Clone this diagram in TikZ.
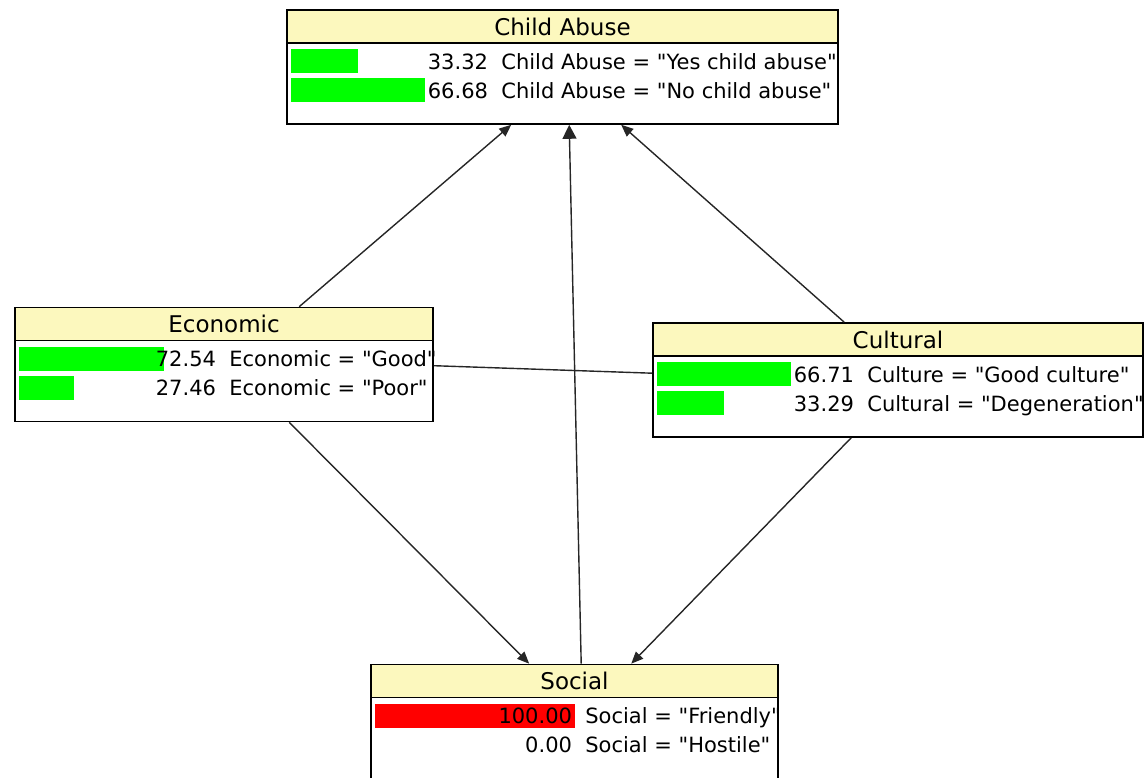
\documentclass[tikz,border=0pt]{standalone}
\usepackage{fontspec}
\setmainfont{DejaVu Sans}[Ligatures=TeXOff]
\usetikzlibrary{calc}
\usetikzlibrary{arrows.meta}
\definecolor{ttlyellow}{RGB}{252,248,190}
\definecolor{bargreen}{RGB}{0,255,0}
\definecolor{barred}{RGB}{255,0,0}
\tikzstyle{cpt} = [rectangle,fill=white,draw=black,line width=1.6pt,minimum height=114pt,inner sep=0pt]
\tikzstyle{ttl} = [rectangle,fill=ttlyellow,draw=black,line width=1.6pt,minimum height=33pt,anchor=north,inner sep=0pt,font=\fontsize{23}{23}\selectfont]
\tikzstyle{num} = [anchor=base east,inner sep=0pt,font=\fontsize{21}{21}\selectfont]
\tikzstyle{lbl} = [anchor=base west,inner sep=0pt,font=\fontsize{21}{21}\selectfont]
\tikzstyle{link} = [line width=1.4pt,draw=black!85,-{Triangle[length=12pt,width=10pt]}]
\newcommand{\staterow}[5]{%
\fill[#4] ($(#1.north west)+(5,40+29*#2)$) rectangle ++(2*#3,24);
\node[num] (#1-n#2) at ($(#1.north west)+(202,60+29*#2)$) {#3};
\node[lbl] (#1-l#2) at ($(#1.north west)+(215,60+29*#2)$) {#5};}

\begin{document}
\begin{tikzpicture}[x=1pt,y=-1pt]
\useasboundingbox (0,0) rectangle (1144,778);

% Define nodes
\node[cpt, minimum width=551pt]  (ca)  at (562.5,67)  {};
\node[cpt, minimum width=418pt]  (eco) at (224,364.5) {};
\node[cpt, minimum width=490pt]  (cul) at (898,380)   {};
\node[cpt, minimum width=407pt]  (soc) at (574.5,721.5) {};

\node[ttl, minimum width=551pt]  (cat)  at (ca.north)  {Child Abuse};
\node[ttl, minimum width=418pt]  (ecot) at (eco.north) {Economic};
\node[ttl, minimum width=490pt]  (cult) at (cul.north) {Cultural};
\node[ttl, minimum width=407pt]  (soct) at (soc.north) {Social};

% States
\staterow{ca}{0}{33.32}{bargreen}{Child Abuse = "Yes child abuse"}
\staterow{ca}{1}{66.68}{bargreen}{Child Abuse = "No child abuse"}
\staterow{eco}{0}{72.54}{bargreen}{Economic = "Good"}
\staterow{eco}{1}{27.46}{bargreen}{Economic = "Poor"}
\staterow{cul}{0}{66.71}{bargreen}{Culture = "Good culture"}
\staterow{cul}{1}{33.29}{bargreen}{Cultural = "Degeneration"}
\staterow{soc}{0}{100.00}{barred}{Social = "Friendly"}
\staterow{soc}{1}{0.00}{white}{Social = "Hostile"}

% Edges
\draw[link] ($(eco.north west)+(285,0)$) -- ($(ca.south west)+(225,0)$);
\draw[link] ($(cul.north west)+(192,0)$) -- ($(ca.south west)+(335,0)$);
\draw[link, -{Triangle[length=14pt,width=14pt]}] ($(soc.north west)+(211,0)$) -- ($(ca.south west)+(283,0)$);
\draw[link] ($(eco.south west)+(275,0)$) -- ($(soc.north west)+(159,0)$);
\draw[link] ($(cul.south west)+(199,0)$) -- ($(soc.north west)+(261,0)$);
\draw[link, -] ($(eco.north east)+(0,59)$) -- ($(cul.north west)+(0,51)$);
\end{tikzpicture}
\end{document}
